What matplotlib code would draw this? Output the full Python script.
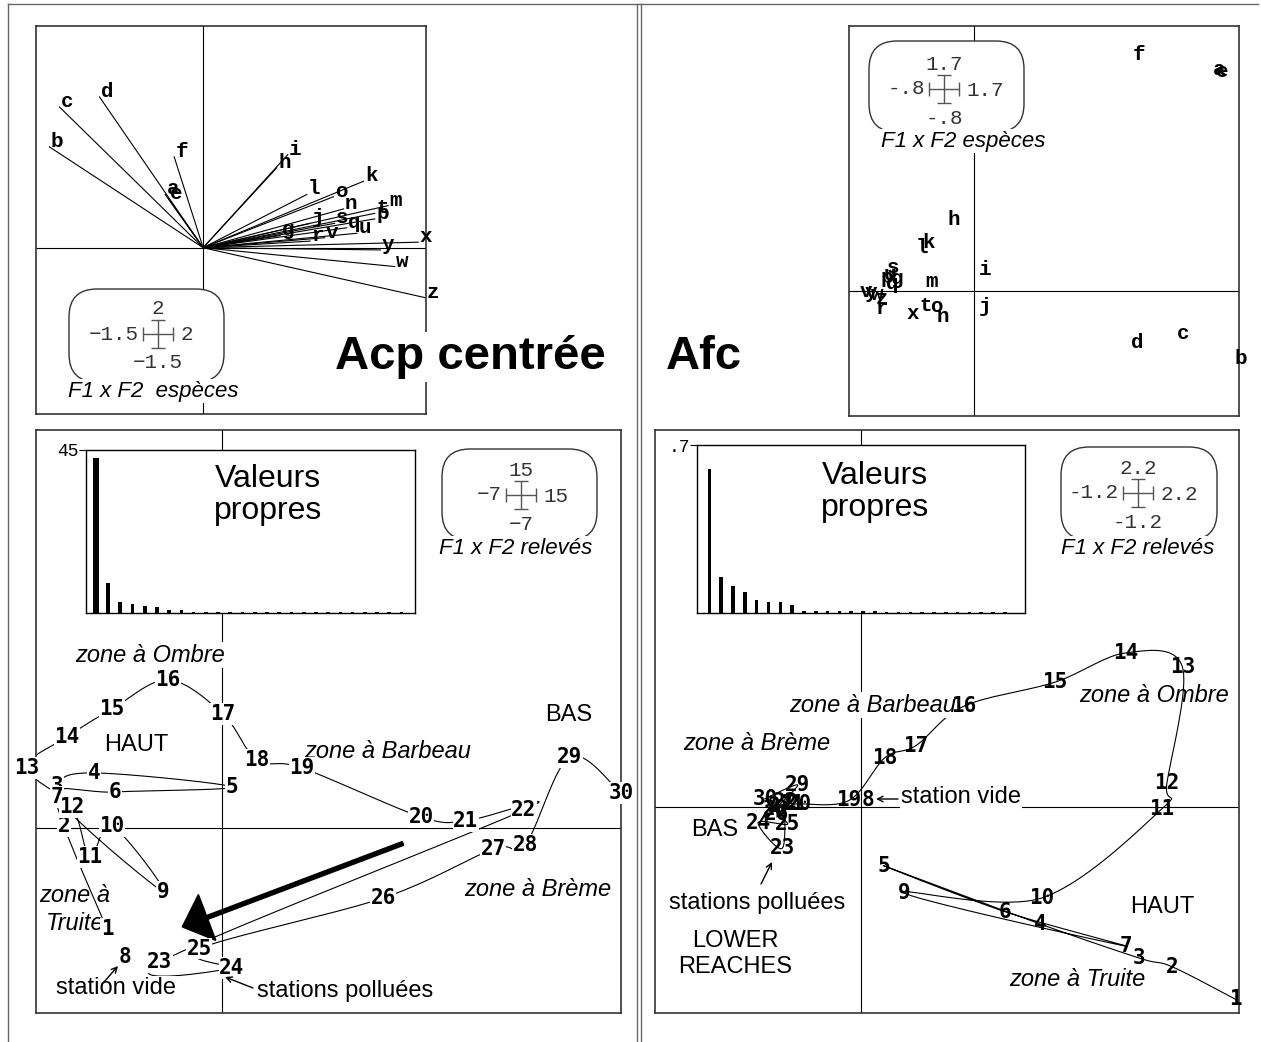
import numpy as np
import matplotlib
matplotlib.use("Agg")
import matplotlib.pyplot as plt
from matplotlib.patches import FancyBboxPatch

W, H = 1261, 1042

# species (a..z) -- ACP loadings and AFC scores on F1 x F2
species = list("abcdefghijklmnopqrstuvwxyz")
acp_sp_x = [-0.34, -1.38, -1.29, -0.93, -0.31, -0.26, 0.69, 0.66, 0.76, 0.96, 1.44, 0.93, 1.66,
            1.26, 1.17, 1.54, 1.29, 0.96, 1.18, 1.54, 1.38, 1.09, 1.72, 1.93, 1.59, 1.99]
acp_sp_y = [0.48, 0.91, 1.27, 1.36, 0.44, 0.82, 0.11, 0.72, 0.84, 0.22, 0.60, 0.48, 0.38,
            0.35, 0.46, 0.26, 0.18, 0.06, 0.22, 0.31, 0.13, 0.09, -0.17, 0.05, -0.02, -0.45]
afc_sp_x = [1.57, 1.71, 1.34, 1.05, 1.59, 1.06, -0.49, -0.13, 0.07, 0.07, -0.29, -0.33, -0.27,
            -0.20, -0.24, -0.56, -0.52, -0.59, -0.52, -0.31, -0.54, -0.69, -0.62, -0.39, -0.66, -0.59]
afc_sp_y = [1.42, -0.43, -0.27, -0.33, 1.41, 1.52, 0.08, 0.46, 0.14, -0.10, 0.31, 0.28, 0.06,
            -0.16, -0.10, 0.09, 0.05, -0.11, 0.15, -0.09, 0.11, 0.00, -0.02, -0.14, -0.01, -0.05]

# stations 1..30 along the river
stations = [str(i) for i in range(1, 31)]
empty_station = "8"
acp_st_x = [-4.33, -5.95, -6.21, -4.82, 0.37, -4.03, -6.21, -3.65, -2.22, -4.14,
            -4.97, -5.65, -7.34, -5.83, -4.14, -2.03, 0.03, 1.31, 3.00, 7.48,
            9.17, 11.35, -2.34, 0.37, -0.87, 6.05, 10.19, 11.39, 13.08, 15.00]
acp_st_y = [-3.83, 0.06, 1.57, 2.06, 1.53, 1.34, 1.15, -4.89, -2.43, 0.06,
            -1.11, 0.77, 2.25, 3.42, 4.47, 5.57, 4.28, 2.55, 2.25, 0.40,
            0.25, 0.66, -5.08, -5.30, -4.58, -2.66, -0.81, -0.66, 2.66, 1.30]
afc_st_x = [2.18, 1.81, 1.62, 1.04, 0.13, 0.84, 1.54, 0.04, 0.25, 1.05,
            1.75, 1.78, 1.87, 1.54, 1.13, 0.60, 0.32, 0.14, -0.07, -0.36,
            -0.40, -0.44, -0.46, -0.60, -0.43, -0.49, -0.47, -0.50, -0.37, -0.56]
afc_st_y = [-1.12, -0.93, -0.88, -0.68, -0.34, -0.61, -0.81, 0.04, -0.50, -0.53,
            -0.01, 0.14, 0.82, 0.90, 0.73, 0.59, 0.36, 0.29, 0.04, 0.02,
            0.02, 0.03, -0.24, -0.09, -0.10, -0.04, 0.01, -0.01, 0.13, 0.05]

# eigenvalues
acp_eig = [42.9, 8.3, 3.1, 2.6, 1.8, 1.7, 0.9, 0.9, 0.3, 0.25, 0.2, 0.2, 0.15,
           0.15, 0.15, 0.15, 0.15, 0.15, 0.15, 0.15, 0.15, 0.15, 0.15, 0.15, 0.15, 0.15]
afc_eig = [0.599, 0.150, 0.112, 0.088, 0.056, 0.046, 0.045, 0.033, 0.010, 0.009, 0.008,
           0.008, 0.007, 0.007, 0.007, 0.006, 0.004, 0.004, 0.004, 0.004, 0.004, 0.004,
           0.004, 0.004, 0.004, 0.004]

# axis ranges and their labels in the scale boxes (top, left, right, bottom)
acp_sp_lim = (-1.5, 2.0)
afc_sp_lim = (-0.8, 1.7)
acp_st_lim = (-7.0, 15.0)
afc_st_lim = (-1.2, 2.2)
acp_sp_scale = ["2", "\u22121.5", "2", "\u22121.5"]
afc_sp_scale = ["1.7", "-.8", "1.7", "-.8"]
acp_st_scale = ["15", "\u22127", "15", "\u22127"]
afc_st_scale = ["2.2", "-1.2", "2.2", "-1.2"]

SANS = "Liberation Sans"
MONO = ["Liberation Mono", "DejaVu Sans Mono"]
LABEL = "DejaVu Sans Mono"

fig = plt.figure(figsize=(W / 100, H / 100), dpi=100)


def px_axes(x0, y0, x1, y1):
    return fig.add_axes([x0 / W, 1 - y1 / H, (x1 - x0) / W, (y1 - y0) / H])


# pixel overlay used for frames, scale boxes and free text
ov = fig.add_axes([0, 0, 1, 1])
ov.set_xlim(0, W)
ov.set_ylim(H, 0)
ov.axis("off")
ov.set_zorder(20)
pix = ov.transData


def panel(box, lim):
    ax = px_axes(*box)
    ax.set_xlim(lim)
    ax.set_ylim(lim)
    ax.set_xticks([])
    ax.set_yticks([])
    for s in ax.spines.values():
        s.set_color("#333333")
        s.set_linewidth(1.2)
    ax.axhline(0, color="k", lw=0.8, zorder=1)
    ax.axvline(0, color="k", lw=0.8, zorder=1)
    return ax


def smooth_path(xs, ys, n=20):
    # Catmull-Rom curve through the stations, in order
    P = np.column_stack([xs, ys])
    P = np.vstack([P[0], P, P[-1]])
    t = np.linspace(0, 1, n, endpoint=False)[:, None]
    out = []
    for i in range(1, len(P) - 2):
        p0, p1, p2, p3 = P[i - 1], P[i], P[i + 1], P[i + 2]
        seg = 0.5 * (2 * p1 + (p2 - p0) * t + (2 * p0 - 5 * p1 + 4 * p2 - p3) * t ** 2
                     + (-p0 + 3 * p1 - 3 * p2 + p3) * t ** 3)
        out.append(seg)
    out.append(P[-2][None])
    pts = np.vstack(out)
    return pts[:, 0], pts[:, 1]


def ptext(ax, x, y, s, size=17, style="normal", bg=True, z=3, **kw):
    bbox = dict(fc="white", ec="none", pad=1) if bg else None
    ax.text(x, y, s, transform=pix, ha=kw.pop("ha", "center"), va="center",
            family=SANS, fontsize=size, style=style, bbox=bbox, zorder=z, **kw)


def eigen_inset(box, vals, widths, xlim, top, toplabel, title_xy):
    ax = px_axes(*box)
    idx = np.arange(1, len(vals) + 1)
    ax.bar(idx, vals, width=widths, color="k")
    ax.set_xlim(xlim)
    ax.set_ylim(0, top)
    ax.set_xticks([])
    ax.set_yticks([top])
    ax.set_yticklabels([toplabel], family=MONO, fontsize=13)
    ax.tick_params(axis="y", length=5, pad=0, width=0.8)
    for s in ax.spines.values():
        s.set_linewidth(1.0)
    ax.text(*title_xy, "Valeurs\npropres", transform=pix, ha="center", va="center",
            family=SANS, fontsize=23, linespacing=1.1)


def scale_box(box, cross, labels, title, title_xy):
    x0, y0, x1, y1 = box
    ov.add_patch(FancyBboxPatch((x0, y0), x1 - x0, y1 - y0,
                                boxstyle="round,pad=0,rounding_size=28",
                                fc="white", ec="#333333", lw=1, zorder=1))
    cx, cy = cross
    ov.errorbar([cx], [cy], xerr=[15], yerr=[14], fmt="none", ecolor="#555555",
                elinewidth=1, capsize=5, capthick=1, zorder=2)
    top, left, right, bottom = labels
    kw = dict(family=MONO, fontsize=15, color="#333333", va="center", zorder=5)
    ov.text(cx, cy - 25, top, ha="center", **kw)
    ov.text(cx - 19, cy, left, ha="right", **kw)
    ov.text(cx + 22, cy + 1, right, ha="left", **kw)
    ov.text(cx, cy + 29, bottom, ha="center", **kw)
    ov.text(*title_xy, title, ha="center", va="center", family=SANS, fontsize=16,
            style="italic", zorder=3, bbox=dict(fc="white", ec="none", pad=1))


# ---- ACP species: loading vectors
ax1 = panel((36, 26, 426, 414), acp_sp_lim)
for name, x, y in zip(species, acp_sp_x, acp_sp_y):
    ax1.plot([0, x], [0, y], color="k", lw=0.8, zorder=2)
    ax1.annotate(name, (x, y), xytext=(1, 4), textcoords="offset points",
                 ha="left", va="center", family=MONO, fontsize=15, fontweight="bold")

# ---- AFC species: scores
ax2 = panel((849, 26, 1239, 416), afc_sp_lim)
for name, x, y in zip(species, afc_sp_x, afc_sp_y):
    ax2.text(x, y, name, ha="center", va="center", family=MONO, fontsize=15,
             fontweight="bold", zorder=3)

# ---- ACP stations
ax3 = panel((36, 430, 621, 1013), acp_st_lim)
keep = [s != empty_station for s in stations]
cx, cy = smooth_path(np.array(acp_st_x)[keep], np.array(acp_st_y)[keep])
ax3.plot(cx, cy, color="k", lw=0.8, zorder=2)
for s, x, y in zip(stations, acp_st_x, acp_st_y):
    ax3.text(x, y, s, ha="center", va="center", family=LABEL, fontsize=15,
             fontweight="bold", zorder=5, bbox=dict(fc="white", ec="none", pad=0.5))
ax3.arrow(6.8, -0.6, -8.3, -3.15, width=0.15, head_width=1.85, head_length=1.0,
          length_includes_head=True, color="k", zorder=4)
ptext(ax3, 150, 655, "zone \u00e0 Ombre", style="italic")
ptext(ax3, 136, 745, "HAUT")
ptext(ax3, 569, 715, "BAS")
ptext(ax3, 388, 752, "zone \u00e0 Barbeau", style="italic")
ptext(ax3, 538, 889, "zone \u00e0 Br\u00e8me", style="italic")
ptext(ax3, 39, 896, "zone \u00e0", style="italic", bg=False, ha="left")
ptext(ax3, 46, 924, "Truite", style="italic", bg=False, ha="left")
ptext(ax3, 116, 988, "station vide")
ptext(ax3, 345, 991, "stations pollu\u00e9es")
ov.annotate("", xy=(118, 966), xytext=(104, 982),
            arrowprops=dict(arrowstyle="->", lw=1, color="k", shrinkA=0, shrinkB=0))
ov.annotate("", xy=(225, 977), xytext=(253, 988),
            arrowprops=dict(arrowstyle="->", lw=1, color="k", shrinkA=0, shrinkB=0))

# ---- AFC stations
ax4 = panel((655, 430, 1239, 1013), afc_st_lim)
cx, cy = smooth_path(np.array(afc_st_x)[keep], np.array(afc_st_y)[keep])
ax4.plot(cx, cy, color="k", lw=0.8, zorder=2)
for s, x, y in zip(stations, afc_st_x, afc_st_y):
    ax4.text(x, y, s, ha="center", va="center", family=LABEL, fontsize=15,
             fontweight="bold", zorder=5)
ptext(ax4, 873, 705, "zone \u00e0 Barbeau", style="italic")
ptext(ax4, 757, 743, "zone \u00e0 Br\u00e8me", style="italic")
ptext(ax4, 1154, 695, "zone \u00e0 Ombre", style="italic", bg=False)
ptext(ax4, 1077, 979, "zone \u00e0 Truite", style="italic", bg=False)
ptext(ax4, 1162, 907, "HAUT", bg=False)
ptext(ax4, 715, 830, "BAS", bg=False)
ptext(ax4, 735, 954, "LOWER\nREACHES", bg=False, linespacing=1.2)
ptext(ax4, 757, 903, "stations pollu\u00e9es", bg=False)
ptext(ax4, 961, 797, "station vide")
ov.annotate("", xy=(772, 862), xytext=(761, 884),
            arrowprops=dict(arrowstyle="->", lw=1, color="k", shrinkA=0, shrinkB=0))
ov.annotate("", xy=(876, 799), xytext=(898, 799),
            arrowprops=dict(arrowstyle="->", lw=1, color="k", shrinkA=0, shrinkB=0))

# ---- eigenvalue insets
acp_w = [0.5] + [0.3] * (len(acp_eig) - 1)
afc_w = [0.3] * len(afc_eig)
eigen_inset((86, 450, 415, 613), acp_eig, acp_w, (0.2, 27.1), 45, "45", (268, 495))
eigen_inset((697, 445, 1025, 613), afc_eig, afc_w, (-0.05, 27.7), 0.7, ".7", (875, 492))

# ---- scale boxes
scale_box((69, 289, 224, 382), (158, 334), acp_sp_scale, "F1 x F2  esp\u00e8ces", (153, 391))
scale_box((869, 41, 1024, 132), (944, 89), afc_sp_scale, "F1 x F2 esp\u00e8ces", (963, 141))
scale_box((442, 449, 597, 540), (521, 495), acp_st_scale, "F1 x F2 relev\u00e9s", (516, 548))
scale_box((1061, 447, 1217, 540), (1138, 493), afc_st_scale, "F1 x F2 relev\u00e9s", (1138, 548))

# ---- titles and page frame
ov.text(470, 357, "Acp centr\u00e9e", ha="center", va="center", family=SANS, fontsize=34,
        fontweight="bold", bbox=dict(fc="white", ec="none", pad=2))
ov.text(704, 357, "Afc", ha="center", va="center", family=SANS, fontsize=34,
        fontweight="bold")
fr = dict(color="#666666", lw=1)
ov.plot([8, 1258], [4, 4], **fr)
ov.plot([8, 8], [4, H], **fr)
ov.plot([637, 637], [4, H], **fr)
ov.plot([641, 641], [4, H], **fr)

fig.savefig("out.png", dpi=100)
